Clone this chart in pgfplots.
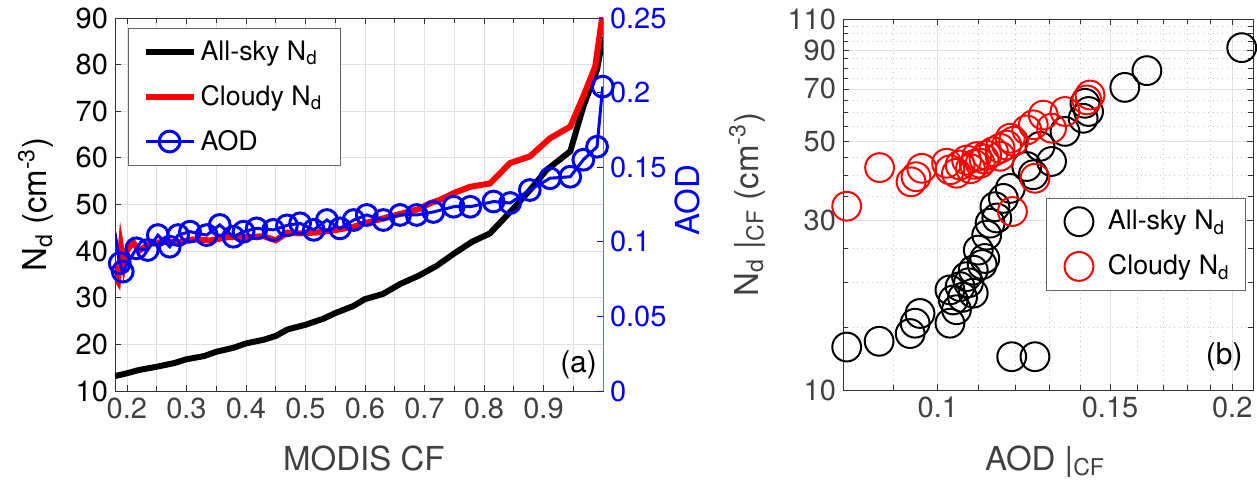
\documentclass[border=0pt]{standalone}
\usepackage{fontspec}
\setmainfont{TeX Gyre Heros}
\usepackage{pgfplots}
\pgfplotsset{compat=1.18}
\definecolor{txt}{gray}{0.25}
\definecolor{gridc}{gray}{0.88}
\definecolor{mblue}{rgb}{0,0,1}
\begin{document}
\begin{tikzpicture}
\pgfplotsset{
  every axis/.append style={
    scale only axis, anchor=south west,
    tick align=inside, major tick length=3pt, minor tick length=2.5pt,
    /pgf/number format/assume math mode=true,
    tick label style={font=\fontsize{14.5}{17}\selectfont, text=txt},
    label style={font=\fontsize{16.5}{20}\selectfont},
    axis line style={black!80},
    every tick/.style={black!80},
  },
}
% ---- panel (a): Nd vs MODIS CF ----
\begin{axis}[
  at={(57.5pt,47.5pt)}, width=244pt, height=186.5pt,
  xmin=0.18, xmax=1.0, ymin=10, ymax=90,
  xtick={0.2,0.3,0.4,0.5,0.6,0.7,0.8,0.9},
  xticklabels={0.2,0.3,0.4,0.5,0.6,0.7,0.8,0.9},
  minor xtick={0.25,0.35,0.45,0.55,0.65,0.75,0.85,0.95},
  ytick={10,20,30,40,50,60,70,80,90},
  yticklabels={10,20,30,40,50,60,70,80,90},
  yticklabel style={text=black},
  ytick pos=left,
  grid=both, major grid style={gridc}, minor grid style={gridc},
  xlabel={MODIS CF}, xlabel style={text=txt, at={(axis description cs:0.51,-0.212)}, anchor=base},
  ylabel={N\textsubscript{d} (cm\textsuperscript{-3})},
  ylabel style={at={(axis description cs:-0.162,0.5)}, anchor=center},
  legend style={at={(axis description cs:0.027,0.973)}, anchor=north west,
    font=\fontsize{13.4}{16}\selectfont, draw=black!60, legend cell align=left,
    row sep=7pt, inner ysep=4pt, inner xsep=7pt},
  legend image code/.code={\draw[mark repeat=2,mark phase=2,#1] plot coordinates {(0pt,0pt) (12pt,0pt) (24pt,0pt)};},
]
\addplot[black, line width=3pt] coordinates {
  (0.18,13.2) (0.20,13.8) (0.22,14.5) (0.25,15.2) (0.28,16.0) (0.30,16.8)
  (0.33,17.5) (0.35,18.4) (0.38,19.3) (0.40,20.2) (0.43,21.0) (0.45,21.8)
  (0.47,23.2) (0.50,24.2) (0.53,25.5) (0.55,26.7) (0.58,28.2) (0.60,29.7)
  (0.63,30.8) (0.66,33.0) (0.69,34.7) (0.72,36.8) (0.75,39.5) (0.78,42.0)
  (0.81,43.8) (0.85,49.2) (0.88,53.5) (0.905,57.4) (0.945,61.4) (0.967,71.0)
  (0.99,78.9) (1.0,86.0)
};
\addlegendentry{All-sky N\textsubscript{d}}
\addplot[red, line width=3pt] coordinates {
  (0.18,34.5) (0.185,33.5) (0.19,41.0) (0.195,37.0) (0.20,40.0) (0.21,42.0)
  (0.22,40.0) (0.236,41.5) (0.26,42.0) (0.29,41.9) (0.31,42.5) (0.34,42.3)
  (0.37,43.0) (0.40,43.0) (0.43,43.2) (0.45,42.3) (0.47,44.0) (0.49,43.8)
  (0.52,44.0) (0.55,44.5) (0.58,45.2) (0.60,46.0) (0.63,47.0) (0.66,48.0)
  (0.69,49.0) (0.71,50.3) (0.726,51.0) (0.75,52.5) (0.777,53.8) (0.81,54.5)
  (0.844,58.9) (0.877,60.3) (0.911,64.2) (0.945,66.7) (0.967,73.2) (0.987,79.6)
  (0.998,89.6) (1.0,92.0)
};
\addlegendentry{Cloudy N\textsubscript{d}}
\addlegendimage{mblue, line width=1.5pt, mark=o, mark size=5.2pt}
\addlegendentry{AOD}
\node[font=\fontsize{15}{18}\selectfont, anchor=center] at (axis description cs:0.95,0.07) {(a)};
\end{axis}
% ---- panel (a): AOD on right axis ----
\begin{axis}[
  at={(57.5pt,47.5pt)}, width=244pt, height=186.5pt,
  xmin=0.18, xmax=1.0, ymin=0, ymax=0.25,
  axis x line=none, axis y line*=right,
  y axis line style={mblue!60}, every tick/.style={mblue},
  ytick={0,0.05,0.1,0.15,0.2,0.25},
  yticklabels={0,0.05,0.1,0.15,0.2,0.25},
  yticklabel style={text=mblue},
  ylabel={AOD}, ylabel style={text=mblue, at={(axis description cs:1.174,0.512)}, anchor=center},
]
\addplot[mblue, line width=1.5pt] coordinates {(0.18,0.106) (0.188,0.0856)};
\addplot[mblue, line width=1.5pt, mark=o, mark size=5.2pt] coordinates {
  (0.188,0.0856) (0.193,0.080) (0.216,0.0956) (0.235,0.0945)
  (0.252,0.1045) (0.272,0.0967) (0.286,0.1045) (0.306,0.1068) (0.334,0.1045)
  (0.356,0.1113) (0.379,0.1034) (0.396,0.1068) (0.418,0.109) (0.446,0.108)
  (0.469,0.111) (0.491,0.1124) (0.514,0.108) (0.536,0.1146) (0.558,0.109)
  (0.581,0.1146) (0.603,0.118) (0.631,0.1146) (0.659,0.118) (0.687,0.118)
  (0.715,0.120) (0.749,0.1235) (0.777,0.1235) (0.816,0.127) (0.844,0.126)
  (0.877,0.1347) (0.911,0.1426) (0.945,0.1436) (0.967,0.155) (0.99,0.1637)
  (0.9995,0.204)
};
\end{axis}
% ---- panel (b): Nd vs AOD (log-log) ----
\begin{axis}[
  at={(421.5pt,48pt)}, width=205pt, height=185.5pt,
  xmode=log, ymode=log, clip=false,
  xmin=0.08, xmax=0.21, ymin=10, ymax=110,
  xtick={0.1,0.15,0.2}, xticklabels={0.1,0.15,0.2},
  minor xtick={0.09,0.11,0.12,0.13,0.14,0.16,0.17,0.18,0.19},
  ytick={10,30,50,70,90,110}, yticklabels={10,30,50,70,90,110},
  minor ytick={15,20,25,35,40,45,55,60,65,75,80,85,95,100,105},
  grid=both, major grid style={gridc}, minor grid style={gray!45, dotted},
  xlabel={AOD |\textsubscript{CF}}, xlabel style={text=txt, at={(axis description cs:0.493,-0.216)}, anchor=base},
  ylabel={N\textsubscript{d} |\textsubscript{CF} (cm\textsuperscript{-3})},
  ylabel style={text=txt, at={(axis description cs:-0.234,0.5)}, anchor=center},
  legend style={at={(axis description cs:0.983,0.5175)}, anchor=north east,
    font=\fontsize{13.4}{16}\selectfont, draw=black!60, legend cell align=left,
    row sep=7pt, inner ysep=4pt, inner xsep=6pt},
  legend image code/.code={\path (0pt,0pt) (22pt,0pt); \draw[#1] plot coordinates {(10pt,0pt)};},
]
\addplot[only marks, black, mark=o, mark size=7.2pt, line width=1pt] coordinates {
  (0.2045,91.4) (0.1636,78.8) (0.1553,70.7) (0.1414,63.8) (0.1426,60.5)
  (0.1408,57.9) (0.1349,53.2) (0.1307,43.8) (0.1272,48.3) (0.1233,42.4)
  (0.1252,40.2) (0.1186,36.8) (0.1167,34.5) (0.1144,32.7) (0.1149,30.4)
  (0.1131,29.4) (0.1122,27.2) (0.1100,24.7) (0.1117,23.4) (0.1087,21.7)
  (0.1070,20.8) (0.1029,19.1) (0.1054,19.5) (0.1037,17.9) (0.1045,16.8)
  (0.1029,15.4) (0.1087,18.7) (0.1060,18.2) (0.1075,20.0) (0.1110,22.5)
  (0.0959,16.4) (0.0948,15.4) (0.0937,14.4) (0.0871,13.7) (0.0807,13.2)
  (0.1190,12.4) (0.1257,12.4)
};
\addlegendentry{All-sky N\textsubscript{d}}
\addplot[only marks, red, mark=o, mark size=7.2pt, line width=1pt] coordinates {
  (0.0807,32.8) (0.0872,42.1) (0.0939,38.4) (0.0950,39.7) (0.0963,41.9)
  (0.1021,43.3) (0.1029,41.5) (0.1045,40.6) (0.1054,42.8) (0.1070,44.2)
  (0.1080,41.8) (0.1090,43.0) (0.1096,45.2) (0.1105,43.3) (0.1115,44.5)
  (0.1122,45.6) (0.1140,46.7) (0.1158,47.7) (0.1158,45.3) (0.1176,48.7)
  (0.1186,50.9) (0.1195,49.9) (0.1233,53.7) (0.1252,55.5) (0.1282,59.1)
  (0.1307,54.3) (0.1349,60.5) (0.1420,65.2) (0.1431,67.3) (0.1257,39.3)
  (0.1192,31.7)
};
\addlegendentry{Cloudy N\textsubscript{d}}
\node[font=\fontsize{15}{18}\selectfont, anchor=center] at (axis description cs:0.93,0.09) {(b)};
\end{axis}
\pgfresetboundingbox
\path (0,0) rectangle (628.5pt,243pt);
\end{tikzpicture}
\end{document}
